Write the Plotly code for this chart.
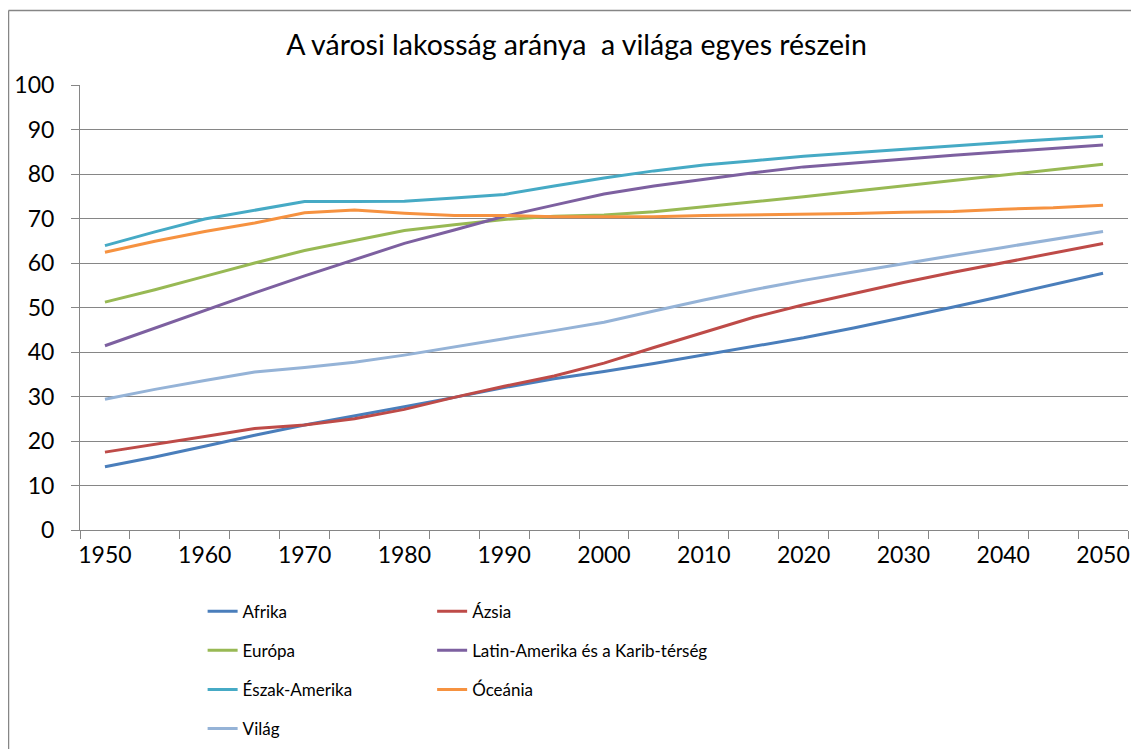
import plotly.graph_objects as go

years = list(range(1950, 2051, 5))
afrika = [14.2, 16.4, 18.8, 21.3, 23.6, 25.6, 27.7, 29.8, 32.0, 34.0, 35.6, 37.4, 39.3, 41.2, 43.2, 45.4, 47.7, 50.1, 52.6, 55.1, 57.7]
azsia = [17.5, 19.2, 21.0, 22.8, 23.6, 25.0, 27.1, 29.8, 32.3, 34.6, 37.5, 41.0, 44.4, 47.8, 50.6, 53.1, 55.6, 57.9, 60.1, 62.2, 64.4]
europa = [51.2, 54.0, 57.0, 60.0, 62.8, 65.1, 67.3, 68.6, 69.8, 70.5, 70.8, 71.5, 72.6, 73.7, 74.9, 76.1, 77.3, 78.6, 79.8, 81.0, 82.2]
latin = [41.4, 45.4, 49.4, 53.3, 57.1, 60.8, 64.4, 67.4, 70.5, 73.0, 75.5, 77.3, 78.8, 80.3, 81.6, 82.5, 83.4, 84.2, 85.0, 85.8, 86.5]
eszak = [63.9, 67.0, 69.9, 71.9, 73.8, 73.8, 73.9, 74.6, 75.4, 77.3, 79.1, 80.7, 82.0, 83.0, 84.0, 84.8, 85.6, 86.4, 87.1, 87.8, 88.5]
oceania = [62.4, 64.9, 67.1, 69.0, 71.3, 71.9, 71.2, 70.7, 70.7, 70.4, 70.4, 70.4, 70.7, 70.8, 70.9, 71.1, 71.4, 71.6, 72.1, 72.4, 73.0]
vilag = [29.4, 31.6, 33.6, 35.5, 36.5, 37.7, 39.3, 41.2, 43.0, 44.8, 46.7, 49.2, 51.7, 54.0, 56.1, 58.0, 59.9, 61.7, 63.5, 65.3, 67.1]

series = [
    ("Afrika", afrika, "#4A7EBB", "legend"),
    ("Ázsia", azsia, "#BE4B48", "legend2"),
    ("Európa", europa, "#98B954", "legend"),
    ("Latin-Amerika és a Karib-térség", latin, "#7D60A0", "legend2"),
    ("Észak-Amerika", eszak, "#46AAC5", "legend"),
    ("Óceánia", oceania, "#F69240", "legend2"),
    ("Világ", vilag, "#95B3D7", "legend"),
]

title_text = "A városi lakosság aránya  a világa egyes részein"
label_years = [y for y in years if y % 10 == 0]
boundaries = [years[0] - 2.5 + 5 * i for i in range(len(years) + 1)]

FONT = "Lato, 'Open Sans', sans-serif"
OFF = 8  # default page margin of the HTML body
W, H = 1139 - OFF, 749 - OFF

fig = go.Figure()
for i, (name, vals, color, leg) in enumerate(series):
    fig.add_trace(go.Scatter(
        x=years, y=vals, name=name, mode="lines",
        line=dict(color=color, width=3),
        legend=leg, legendgroup=name,
    ))

legend_common = dict(yanchor="top", xanchor="left", orientation="v",
                     traceorder="grouped", tracegroupgap=14,
                     font=dict(size=17, family=FONT, color="#000000"),
                     bgcolor="rgba(0,0,0,0)", itemwidth=30)

fig.update_layout(
    width=W, height=H,
    margin=dict(l=80 - OFF, r=W - (1128 - OFF), t=85 - OFF, b=H - (530 - OFF),
                autoexpand=False),
    paper_bgcolor="white", plot_bgcolor="white",
    font=dict(family=FONT, color="#000000"),
    title=dict(text=title_text, x=(576.5 - OFF) / W, xanchor="center", xref="container",
               y=1 - (45 - OFF) / H, yanchor="middle", yref="container",
               font=dict(size=28.5, family=FONT, color="#000000")),
    showlegend=True,
    legend=dict(x=0.117, y=-0.143, **legend_common),
    legend2=dict(x=0.336, y=-0.143, **legend_common),
)

fig.update_xaxes(
    range=[boundaries[0], boundaries[-1]], automargin=False,
    tickmode="array", tickvals=label_years, ticktext=[str(y) for y in label_years],
    ticks="", showgrid=False, zeroline=False,
    showline=True, linecolor="#868686", linewidth=1,
    tickfont=dict(size=23, family=FONT, color="#000000"),
    ticklabelstandoff=4,
    minor=dict(tickmode="array", tickvals=boundaries, ticks="outside",
               ticklen=8, tickcolor="#868686", tickwidth=1, showgrid=False),
)
fig.update_yaxes(
    range=[0, 100], automargin=False, tickmode="linear", tick0=0, dtick=10,
    ticks="outside", ticklen=8, tickcolor="#868686", tickwidth=1,
    showgrid=True, gridcolor="#868686", gridwidth=1, zeroline=False,
    showline=True, linecolor="#868686", linewidth=1,
    tickfont=dict(size=23, family=FONT, color="#000000"),
    ticklabelstandoff=12,
)

# outer chart border: only the left and top edges are visible
bx0 = (8.5 - 80) / 1048
by1 = (530 - 10.5) / 445
fig.add_shape(type="line", xref="paper", yref="paper",
              x0=bx0, x1=bx0, y0=(530 - 900) / 445, y1=by1,
              line=dict(color="#868686", width=1.5), layer="below")
fig.add_shape(type="line", xref="paper", yref="paper",
              x0=bx0, x1=(1400 - 80) / 1048, y0=by1, y1=by1,
              line=dict(color="#868686", width=1.5), layer="below")

fig.write_html("out.html")
